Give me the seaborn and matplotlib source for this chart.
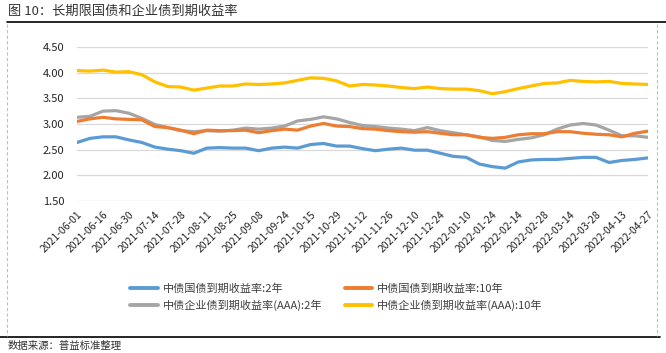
import matplotlib
matplotlib.use("Agg")
import matplotlib.pyplot as plt
import numpy as np
import pandas as pd
import seaborn as sns
from matplotlib.lines import Line2D

# trading-day index (every 5th trading day from 2021-06-01)
day_idx = list(range(0, 221, 5))

gov_2y = [2.64, 2.72, 2.75, 2.75, 2.69,
          2.64, 2.55, 2.51, 2.48, 2.43,
          2.53, 2.54, 2.53, 2.53, 2.48,
          2.53, 2.55, 2.53, 2.60, 2.62,
          2.57, 2.57, 2.52, 2.48, 2.51,
          2.53, 2.49, 2.49, 2.43, 2.37,
          2.35, 2.22, 2.17, 2.14, 2.26,
          2.30, 2.31, 2.31, 2.33, 2.35,
          2.35, 2.25, 2.29, 2.31, 2.34]
gov_10y = [3.05, 3.10, 3.13, 3.10, 3.09,
           3.08, 2.95, 2.93, 2.88, 2.81,
           2.88, 2.87, 2.87, 2.88, 2.83,
           2.87, 2.90, 2.88, 2.96, 3.01,
           2.96, 2.95, 2.91, 2.90, 2.87,
           2.85, 2.84, 2.85, 2.82, 2.79,
           2.79, 2.74, 2.72, 2.74, 2.79,
           2.81, 2.81, 2.85, 2.85, 2.82,
           2.80, 2.79, 2.75, 2.82, 2.86]
corp_2y = [3.13, 3.15, 3.25, 3.26, 3.21,
           3.11, 2.99, 2.93, 2.87, 2.85,
           2.87, 2.86, 2.88, 2.92, 2.90,
           2.92, 2.96, 3.06, 3.09, 3.14,
           3.10, 3.03, 2.97, 2.95, 2.92,
           2.90, 2.87, 2.93, 2.87, 2.83,
           2.79, 2.75, 2.68, 2.66, 2.70,
           2.73, 2.79, 2.90, 2.98, 3.01,
           2.98, 2.88, 2.77, 2.77, 2.74]
corp_10y = [4.04, 4.03, 4.05, 4.01, 4.02,
            3.96, 3.82, 3.73, 3.72, 3.66,
            3.70, 3.74, 3.74, 3.78, 3.77,
            3.78, 3.80, 3.85, 3.90, 3.89,
            3.84, 3.74, 3.77, 3.76, 3.74,
            3.71, 3.69, 3.72, 3.69, 3.68,
            3.68, 3.65, 3.59, 3.63, 3.69,
            3.74, 3.79, 3.80, 3.85, 3.83,
            3.82, 3.83, 3.79, 3.78, 3.77]

tick_labels = ["2021-06-01", "2021-06-16", "2021-06-30", "2021-07-14", "2021-07-28",
               "2021-08-11", "2021-08-25", "2021-09-08", "2021-09-24", "2021-10-15",
               "2021-10-29", "2021-11-12", "2021-11-26", "2021-12-10", "2021-12-24",
               "2022-01-10", "2022-01-24", "2022-02-14", "2022-02-28", "2022-03-14",
               "2022-03-28", "2022-04-13", "2022-04-27"]

names = ["中债国债到期收益率:2年", "中债企业债到期收益率(AAA):2年",
         "中债国债到期收益率:10年", "中债企业债到期收益率(AAA):10年"]
colors = ["#5B9BD5", "#A5A5A5", "#ED7D31", "#FFC000"]

df = pd.concat([
    pd.DataFrame({"idx": day_idx, "val": v, "series": n})
    for n, v in zip(names, [gov_2y, corp_2y, gov_10y, corp_10y])
])

sns.set_style("white")
plt.rcParams["font.family"] = ["Noto Sans CJK SC", "DejaVu Sans"]

fig = plt.figure(figsize=(6.66, 3.53), dpi=100)
ax = fig.add_axes([77 / 666, 1 - 201 / 353, (648 - 77) / 666, 154 / 353])

sns.lineplot(data=df, x="idx", y="val", hue="series", hue_order=names,
             palette=colors, linewidth=2.3, ax=ax, legend=False)

ax.set_xlim(0, 220)
ax.set_ylim(1.5, 4.5)
ax.set_yticks(np.arange(1.5, 4.51, 0.5))
ax.set_yticklabels([f"{v:.2f}" for v in np.arange(1.5, 4.51, 0.5)],
                   fontsize=8, color="#262626")
ax.set_xticks(range(0, 221, 10))
ax.set_xticklabels(tick_labels, rotation=45, ha="right", rotation_mode="anchor",
                   fontsize=7.5, color="#262626")
ax.tick_params(axis="both", length=0, pad=6)
ax.tick_params(axis="y", pad=9)
ax.grid(axis="y", color="#D9D9D9", linewidth=0.9)
ax.set_axisbelow(True)
for s in ax.spines.values():
    s.set_visible(False)
ax.set_xlabel("")
ax.set_ylabel("")

handles = [Line2D([], [], color=c, linewidth=2.8) for c in colors]
fig.legend(handles, names, ncol=2, loc="upper left", bbox_to_anchor=(120 / 666, 1 - 273 / 353),
           frameon=False, fontsize=8, handlelength=2.5, columnspacing=2.0,
           labelspacing=0.5, handletextpad=0.45, labelcolor="#404040")

# page decoration
fig.text(8 / 666, 1 - 11 / 353, "图 10：长期限国债和企业债到期收益率", fontsize=9.5,
         color="#333333", va="center", ha="left")
fig.add_artist(Line2D([7 / 666, 1], [1 - 22 / 353] * 2, color="black", linewidth=1.2))
fig.add_artist(Line2D([0, 660 / 666], [1 - 337 / 353] * 2, color="black", linewidth=1.2))
for xv in [7 / 666, 657 / 666]:
    fig.add_artist(Line2D([xv, xv], [1 - 24 / 353, 1 - 336 / 353], color="#BFBFBF",
                          linewidth=0.8, linestyle=(0, (3, 2))))
fig.text(8 / 666, 1 - 346 / 353, "数据来源：普益标准整理", fontsize=7.5,
         color="#333333", va="center", ha="left")

fig.savefig("out.png", dpi=100)
